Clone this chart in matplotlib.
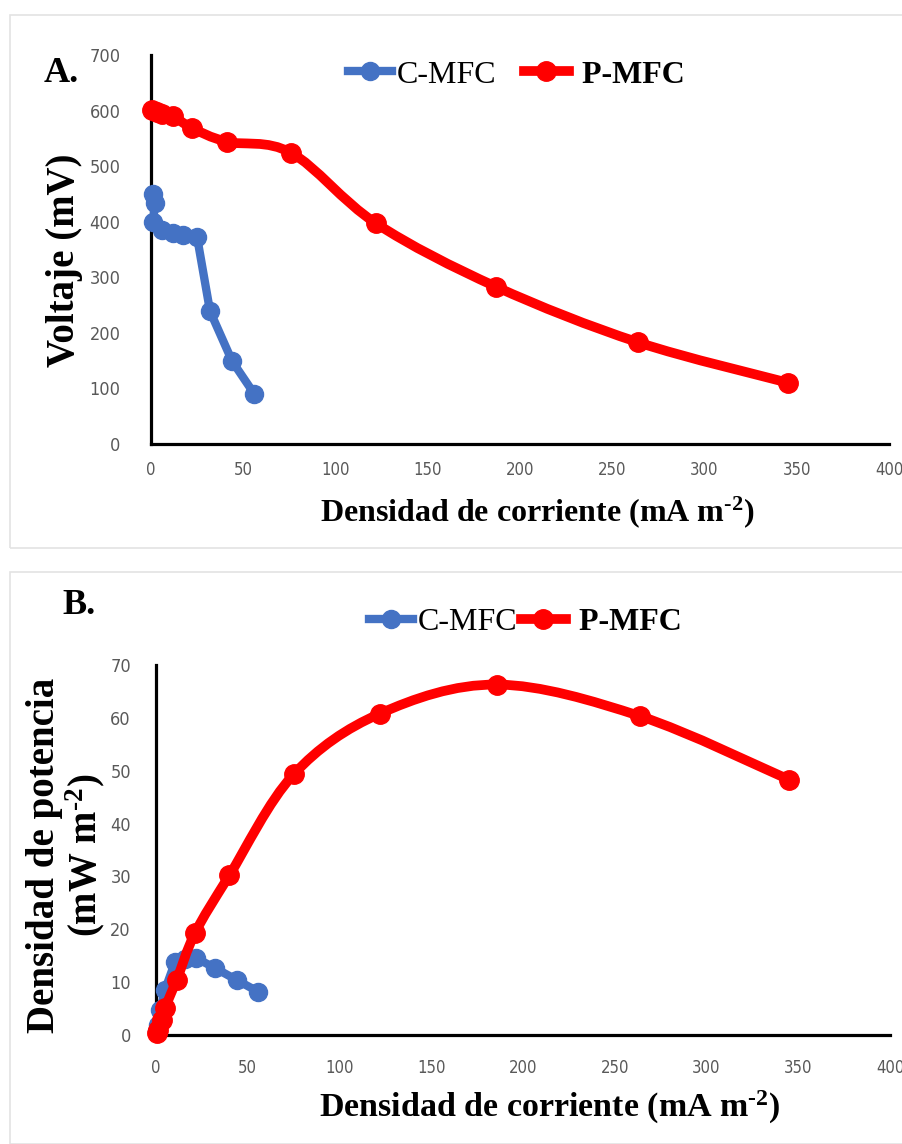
"""Curvas de polarización y densidad de potencia de C-MFC y P-MFC."""

import matplotlib

matplotlib.use("Agg")

import matplotlib.pyplot as plt
import numpy as np
from matplotlib.lines import Line2D
from matplotlib.patches import PathPatch, Rectangle
from matplotlib.path import Path

# Panel A: voltaje frente a densidad de corriente
c_current_a = [0.9, 2.2, 1.1, 6, 12, 17.3, 25, 32, 44, 56]
c_voltage = [449, 434, 400, 386, 380, 377, 372, 239, 149, 90]

p_current_a = [0.5, 3, 6, 12, 22, 41, 76, 122, 187, 264, 345.5]
p_voltage = [601, 598, 594, 590, 569, 544, 524, 397, 283, 183, 110]

# Panel B: densidad de potencia frente a densidad de corriente
c_current_b = [0.3, 1.0, 2.2, 4.9, 10.4, 16, 21.6, 32, 44, 55.6]
c_power = [0.8, 1.9, 4.7, 8.5, 13.8, 14.3, 14.6, 12.7, 10.4, 8.2]

p_current_b = [0.5, 1.3, 3.1, 4.9, 11.3, 21.3, 40, 75, 122, 186, 264, 345]
p_power = [0.3, 0.95, 2.8, 5.1, 10.4, 19.3, 30.2, 49.3, 60.8, 66.3, 60.3, 48.3]

x_ticks = list(range(0, 401, 50))

BLUE = "#4472C4"
RED = "#FF0000"
SERIF = "Liberation Serif"
X_LABEL = r"Densidad de corriente (mA m$^{\text{-2}}$)"

plt.rcParams["mathtext.fontset"] = "custom"
plt.rcParams["mathtext.rm"] = "Liberation Serif:bold"
plt.rcParams["mathtext.it"] = "Liberation Serif:bold"
plt.rcParams["mathtext.bf"] = "Liberation Serif:bold"


def smooth_path(x, y):
    """Curva suavizada tipo Excel (Catmull-Rom -> Bezier) que pasa por los puntos."""
    pts = np.column_stack([x, y]).astype(float)
    n = len(pts)
    verts = [pts[0]]
    codes = [Path.MOVETO]
    for i in range(n - 1):
        p0 = pts[i - 1] if i > 0 else pts[i]
        p1 = pts[i]
        p2 = pts[i + 1]
        p3 = pts[i + 2] if i + 2 < n else pts[i + 1]
        verts += [p1 + (p2 - p0) / 6, p2 - (p3 - p1) / 6, p2]
        codes += [Path.CURVE4] * 3
    return Path(verts, codes)


def draw_series(ax, x, y, color, lw, ms, smooth):
    if smooth:
        patch = PathPatch(smooth_path(x, y), fill=False, edgecolor=color, lw=lw,
                          capstyle="round", joinstyle="round", zorder=3)
        patch.set_clip_on(False)
        ax.add_patch(patch)
        ax.plot(x, y, "o", color=color, ms=ms, mec=color, zorder=4, clip_on=False)
    else:
        ax.plot(x, y, "-o", color=color, lw=lw, ms=ms, mec=color,
                solid_joinstyle="round", solid_capstyle="round", zorder=3, clip_on=False)


def style_axis(ax, ylim, yticks, ypad, xpad):
    ax.set_xlim(0, 400)
    ax.set_ylim(*ylim)
    ax.set_xticks(x_ticks)
    ax.set_yticks(yticks)
    for side in ("top", "right"):
        ax.spines[side].set_visible(False)
    for side in ("left", "bottom"):
        ax.spines[side].set_linewidth(2.3)
        ax.spines[side].set_color("black")
    ax.tick_params(axis="both", length=0, labelcolor="#595959")
    ax.tick_params(axis="y", pad=ypad, labelsize=13)
    ax.tick_params(axis="x", pad=xpad, labelsize=12)
    for label in ax.get_xticklabels() + ax.get_yticklabels():
        label.set_family("DejaVu Sans")
        label.set_stretch("condensed")


def add_legend(fig, ax, center, spacing):
    handles = [
        Line2D([], [], color=BLUE, lw=6, marker="o", ms=13),
        Line2D([], [], color=RED, lw=7, marker="o", ms=14),
    ]
    leg = ax.legend(handles, ["C-MFC", " P-MFC"], ncol=2, frameon=False,
                    loc="center", bbox_to_anchor=center, bbox_transform=fig.transFigure,
                    prop={"family": SERIF, "size": 23}, handlelength=1.4,
                    handletextpad=0.15, columnspacing=spacing)
    leg.get_texts()[1].set_fontweight("bold")


fig = plt.figure(figsize=(9.02, 11.44), dpi=100)

# marcos grises de cada panel
for y0, h in ((0.521, 0.466), (0.0, 0.5)):
    fig.patches.append(Rectangle((0.011, y0), 1.2, h, transform=fig.transFigure,
                                 fill=False, edgecolor="#e3e3e3", lw=1.2))

ax_a = fig.add_axes([0.1674, 0.6119, 0.8182, 0.340])
draw_series(ax_a, c_current_a, c_voltage, BLUE, 6, 13, smooth=False)
draw_series(ax_a, p_current_a, p_voltage, RED, 7, 14, smooth=True)
style_axis(ax_a, (0, 700), range(0, 701, 100), ypad=22, xpad=12)
ax_a.text(-0.117, 0.473, "Voltaje (mV)", transform=ax_a.transAxes, rotation=90,
          ha="center", va="center", family=SERIF, weight="bold", size=28)
ax_a.text(0.523, -0.175, X_LABEL, transform=ax_a.transAxes,
          ha="center", va="center", family=SERIF, weight="bold", size=23)
fig.text(44 / 902, 1 - 73 / 1144, "A.", family=SERIF, weight="bold", size=26,
         ha="left", va="center")
add_legend(fig, ax_a, (516 / 902, 1 - 75 / 1144), 0.85)

ax_b = fig.add_axes([0.1729, 0.0953, 0.8138, 0.3234])
draw_series(ax_b, c_current_b, c_power, BLUE, 6, 13, smooth=False)
draw_series(ax_b, p_current_b, p_power, RED, 7, 14, smooth=True)
style_axis(ax_b, (0, 70), range(0, 71, 10), ypad=18, xpad=17)
ax_b.text(-0.122, 0.486, "Densidad de potencia\n" + r"(mW m$^{\text{-2}}$)",
          transform=ax_b.transAxes, rotation=90, ha="center", va="center",
          family=SERIF, weight="bold", size=28, linespacing=1.0, multialignment="center")
ax_b.text(0.537, -0.197, X_LABEL, transform=ax_b.transAxes,
          ha="center", va="center", family=SERIF, weight="bold", size=24.5)
fig.text(62 / 902, 1 - 606 / 1144, "B.", family=SERIF, weight="bold", size=26,
         ha="left", va="center")
add_legend(fig, ax_b, (525 / 902, 1 - 622 / 1144), 0.1)

fig.savefig("out.png", dpi=100)
